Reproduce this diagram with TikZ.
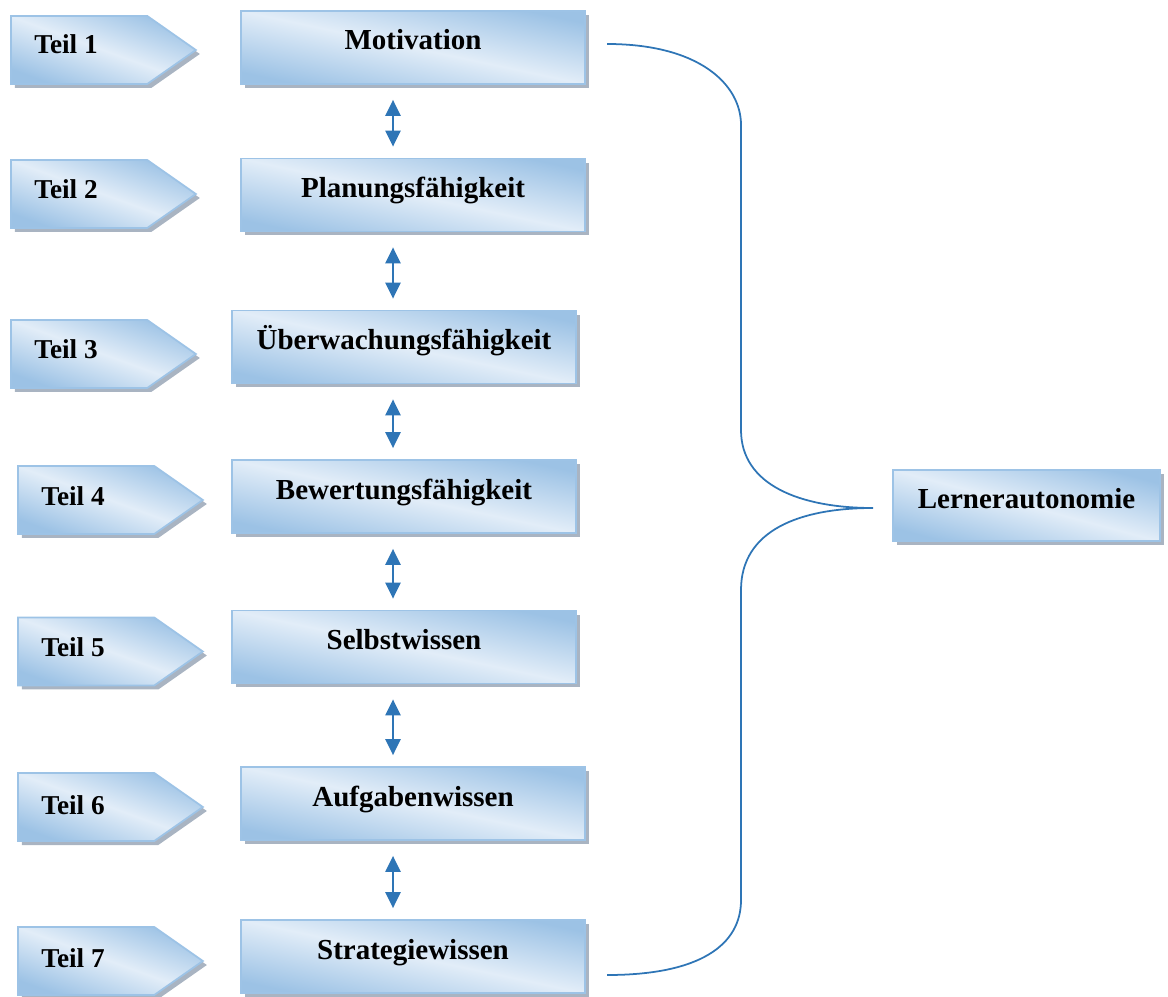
\documentclass[tikz,border=0pt]{standalone}
\usepackage{fontspec}
\setmainfont{Liberation Serif}
\usetikzlibrary{arrows.meta,shapes.symbols,shadows}

\definecolor{boxdark}{HTML}{9CC2E5}
\definecolor{boxlight}{HTML}{E2EDF8}
\definecolor{boxline}{HTML}{9DC3E6}
\definecolor{shadowc}{HTML}{A9B4C2}
\definecolor{linec}{HTML}{2E75B6}

\tikzset{
  fillstyle/.style={draw=boxline, line width=1pt, shading=axis, top color=boxdark, bottom color=boxdark, middle color=boxlight,
    drop shadow={shadow xshift=0.08cm, shadow yshift=-0.08cm, fill=shadowc, opacity=1}},
  stage/.style={fillstyle, shading angle=-12, rectangle, minimum width=6.88cm, minimum height=1.46cm, inner sep=0pt,
    text height=0.42cm, text depth=0.32cm, font=\fontsize{16.5}{19}\selectfont\bfseries},
  teil/.style={fillstyle, shading angle=-20, signal, signal to=east, signal pointer angle=70, minimum width=3.7cm, minimum height=1.36cm, inner sep=0pt, anchor=west},
  teiltext/.style={anchor=west, inner sep=0pt, font=\fontsize{15.5}{18}\selectfont\bfseries},
  dbl/.style={{Triangle[width=0.3cm,length=0.32cm]}-{Triangle[width=0.3cm,length=0.32cm]}, line width=1.3pt, draw=linec,
    shorten <=0.3cm, shorten >=0.22cm},
  brace/.style={draw=linec, line width=1pt}
}

\begin{document}
\begin{tikzpicture}[x=0.02cm, y=-0.02cm]
\useasboundingbox (0,0) rectangle (1168,996);

% Teil arrows on the left
\node[teil] (t1) at (10,50) {};
\node[teil] (t2) at (10,194) {};
\node[teil] (t3) at (10,354) {};
\node[teil] (t4) at (17,500) {};
\node[teil] (t5) at (17,651.5) {};
\node[teil] (t6) at (17,807) {};
\node[teil] (t7) at (17,961) {};
\node[teiltext] (l1) at (34,44) {Teil 1};
\node[teiltext] (l2) at (34,189) {Teil 2};
\node[teiltext] (l3) at (34,349) {Teil 3};
\node[teiltext] (l4) at (41,496) {Teil 4};
\node[teiltext] (l5) at (41,647) {Teil 5};
\node[teiltext] (l6) at (41,805) {Teil 6};
\node[teiltext] (l7) at (41,958) {Teil 7};

% stages
\node[stage] (m1) at (413,47.5) {Motivation};
\node[stage] (m2) at (413,195) {Planungsfähigkeit};
\node[stage] (m3) at (404,347) {Überwachungsfähigkeit};
\node[stage] (m4) at (404,496.5) {Bewertungsfähigkeit};
\node[stage] (m5) at (404,647) {Selbstwissen};
\node[stage] (m6) at (413,803.5) {Aufgabenwissen};
\node[stage] (m7) at (413,956.5) {Strategiewissen};

\node[stage, shading angle=-15, minimum width=5.34cm, minimum height=1.42cm, text depth=0.3cm] (la) at (1026.5,505.5) {Lernerautonomie};

% double arrows
\coordinate (ax) at (393,0);
\draw[dbl] (m1.south -| ax) -- (m2.north -| ax);
\draw[dbl] (m2.south -| ax) -- (m3.north -| ax);
\draw[dbl] (m3.south -| ax) -- (m4.north -| ax);
\draw[dbl] (m4.south -| ax) -- (m5.north -| ax);
\draw[dbl] (m5.south -| ax) -- (m6.north -| ax);
\draw[dbl] (m6.south -| ax) -- (m7.north -| ax);

% brace
\coordinate (btop) at (607,44);
\coordinate (bbot) at (607,975);
\coordinate (btip) at (873,508);
\draw[brace] (btop) .. controls (700,44) and (741,85) .. (741,125) -- (741,430)
  .. controls (741,485) and (800,508) .. (btip)
  .. controls (800,508) and (741,530) .. (741,590) -- (741,900)
  .. controls (741,945) and (700,975) .. (bbot);

\end{tikzpicture}
\end{document}
